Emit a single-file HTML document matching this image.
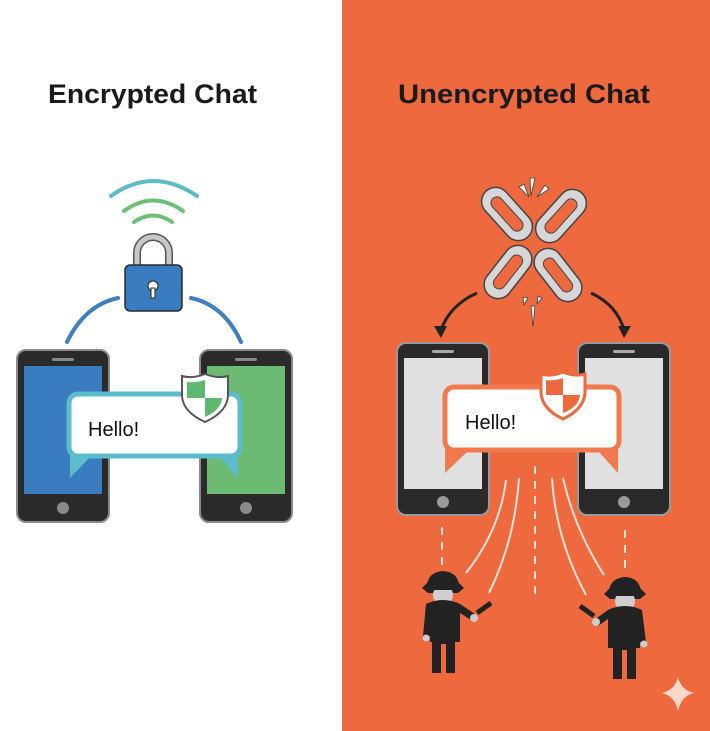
<!DOCTYPE html>
<html><head><meta charset="utf-8"><style>
html,body{margin:0;padding:0;background:#fff}
svg{display:block}
text{font-family:"Liberation Sans",sans-serif}
</style></head><body>
<svg width="710" height="731" viewBox="0 0 710 731" xmlns="http://www.w3.org/2000/svg">
<rect x="0" y="0" width="342" height="731" fill="#ffffff"/>
<rect x="342" y="0" width="368" height="731" fill="#ee6a3e"/>
<text x="48" y="103" font-size="27" font-weight="bold" fill="#1a1a1a" textLength="209" lengthAdjust="spacingAndGlyphs">Encrypted Chat</text>
<text x="398" y="103" font-size="27" font-weight="bold" fill="#1a1a1a" textLength="252" lengthAdjust="spacingAndGlyphs">Unencrypted Chat</text>

<!-- LEFT -->
<g fill="none" stroke-linecap="round" stroke-width="4">
<path d="M111,196 Q153,166 197,196" stroke="#5bbcc8"/>
<path d="M124,211 Q153,190 183,211" stroke="#6cbf74"/>
<path d="M134,222 Q153,209 172,222" stroke="#6cbf74"/>
<path d="M67,342 Q85,305 118,298" stroke="#3d7fbf"/>
<path d="M191,298 Q224,305 241,342" stroke="#3d7fbf"/>
</g>
<path d="M137,267 V253 a16,16 0 0 1 32,0 V267" fill="none" stroke="#555" stroke-width="8"/>
<path d="M137,267 V253 a16,16 0 0 1 32,0 V267" fill="none" stroke="#c8c8c8" stroke-width="5"/>
<rect x="125" y="265" width="57" height="46" rx="5" fill="#3a7cc0" stroke="#2a2a2a" stroke-width="1.5"/>
<circle cx="153" cy="286" r="5" fill="#fff" stroke="#222"/>
<rect x="151" y="288" width="4" height="10" fill="#fff" stroke="#222"/>

<g>
<rect x="17" y="350" width="92" height="172" rx="9" fill="#2a2a2a" stroke="#8a8a8a" stroke-width="2"/>
<rect x="24" y="366" width="78" height="128" fill="#3a7cc0"/>
<rect x="52" y="358" width="22" height="3" rx="1.5" fill="#888"/>
<circle cx="63" cy="508" r="6" fill="#8a8a8a"/>
<rect x="200" y="350" width="92" height="172" rx="9" fill="#2a2a2a" stroke="#8a8a8a" stroke-width="2"/>
<rect x="207" y="366" width="78" height="128" fill="#6dba72"/>
<rect x="235" y="358" width="22" height="3" rx="1.5" fill="#888"/>
<circle cx="246" cy="508" r="6" fill="#8a8a8a"/>
</g>
<path d="M70,452 L70,478 L92,455 Z" fill="#5bbccc"/>
<path d="M238,452 L238,478 L218,455 Z" fill="#5bbccc"/>
<rect x="69" y="394" width="171" height="62" rx="9" fill="#fff" stroke="#5bbccc" stroke-width="5"/>
<text x="88" y="436" font-size="20" fill="#111">Hello!</text>
<path d="M205,374 Q192,379 182,376 L182,396 Q183,412 205,422 Q227,412 228,396 L228,376 Q218,379 205,374 Z" fill="#fff" stroke="#555" stroke-width="2"/>
<path d="M205,380 L205,398 L187,398 L187,382 Q196,383 205,380 Z" fill="#5fb870"/>
<path d="M205,398 L222,398 Q221,410 205,417 Z" fill="#5fb870"/>

<!-- RIGHT chain -->
<g stroke="#444" stroke-width="1.5" fill="#d6d6d6">
<rect x="493" y="183" width="28" height="62" rx="14" transform="rotate(-42 507 214)"/>
<rect x="547" y="185" width="28" height="62" rx="14" transform="rotate(42 561 216)"/>
<rect x="494" y="242" width="28" height="60" rx="14" transform="rotate(38 508 272)"/>
<rect x="544" y="245" width="28" height="60" rx="14" transform="rotate(-38 558 275)"/>
</g>
<g fill="#ee6a3e" stroke="#444" stroke-width="1">
<rect x="501" y="193" width="12" height="42" rx="6" transform="rotate(-42 507 214)"/>
<rect x="555" y="195" width="12" height="42" rx="6" transform="rotate(42 561 216)"/>
<rect x="502" y="252" width="12" height="40" rx="6" transform="rotate(38 508 272)"/>
<rect x="552" y="255" width="12" height="40" rx="6" transform="rotate(-38 558 275)"/>
</g>
<g fill="#eee" stroke="#444" stroke-width="0.8">
<path d="M530,178 L535,178 L531,196 Z"/><path d="M519,187 L524,184 L529,197 Z"/><path d="M545,185 L549,189 L537,197 Z"/>
<path d="M531,306 L535,306 L533,327 Z"/><path d="M523,297 L528,298 L524,305 Z"/><path d="M538,296 L542,298 L537,304 Z"/>
</g>
<g fill="none" stroke="#222" stroke-width="3">
<path d="M477,293 Q450,305 441,330"/>
<path d="M591,293 Q617,305 624,330"/>
</g>
<path d="M434,326 L441,338 L447,326 Z" fill="#222"/>
<path d="M618,326 L624,338 L631,326 Z" fill="#222"/>

<g>
<rect x="397" y="343" width="92" height="172" rx="9" fill="#2a2a2a" stroke="#9a9a9a" stroke-width="2"/>
<rect x="404" y="358" width="78" height="131" fill="#e0e0e0"/>
<rect x="432" y="350" width="22" height="3" rx="1.5" fill="#aaa"/>
<circle cx="443" cy="502" r="6" fill="#9a9a9a"/>
<rect x="578" y="343" width="92" height="172" rx="9" fill="#2a2a2a" stroke="#9a9a9a" stroke-width="2"/>
<rect x="585" y="358" width="78" height="131" fill="#e0e0e0"/>
<rect x="613" y="350" width="22" height="3" rx="1.5" fill="#aaa"/>
<circle cx="624" cy="502" r="6" fill="#9a9a9a"/>
</g>
<path d="M445,448 L445,473 L468,451 Z" fill="#f07a4e"/>
<path d="M618,448 L618,473 L598,451 Z" fill="#f07a4e"/>
<rect x="445" y="387" width="174" height="63" rx="9" fill="#fff" stroke="#f07a4e" stroke-width="5"/>
<text x="465" y="429" font-size="20" fill="#111">Hello!</text>
<path d="M563,372 Q551,377 541,374 L541,393 Q542,409 563,419 Q584,409 585,393 L585,374 Q575,377 563,372 Z" fill="#fff" stroke="#ee6a3e" stroke-width="3"/>
<path d="M563,378 L563,395 L546,395 L546,380 Q555,381 563,378 Z" fill="#ee6a3e"/>
<path d="M563,395 L580,395 Q579,407 563,413 Z" fill="#ee6a3e"/>

<g fill="none" stroke="#fbe3d8" stroke-width="2">
<path d="M535,466 V600" stroke-dasharray="8,7"/>
<path d="M442,527 V567" stroke-dasharray="8,7"/>
<path d="M625,530 V570" stroke-dasharray="8,7"/>
<path d="M506,480 Q500,530 466,573"/>
<path d="M519,478 Q515,540 489,593"/>
<path d="M552,478 Q556,540 586,595"/>
<path d="M563,478 Q575,530 604,575"/>
</g>

<!-- thieves -->
<g>
<path d="M427,586 Q428,572 443,571 Q458,572 459,586 Z" fill="#222"/>
<path d="M428,582 L458,582 L464,588 L458,593 L428,593 L422,588 Z" fill="#222"/>
<circle cx="443" cy="595" r="10" fill="#cfcfcf"/>
<rect x="433" y="584" width="20" height="6" rx="2" fill="#222"/>
<path d="M426,604 Q443,596 460,604 L475,614 L471,620 L460,613 L460,642 L455,642 L455,673 L446,673 L446,644 L441,644 L441,673 L432,673 L432,642 L430,642 L430,636 L423,636 Z" fill="#222"/>
<circle cx="426" cy="638" r="3.5" fill="#ccc"/>
<circle cx="474" cy="618" r="4" fill="#ccc"/>
<path d="M477,613 L491,603" stroke="#222" stroke-width="5"/>
</g>
<g>
<path d="M609,592 Q610,578 625,577 Q640,578 641,592 Z" fill="#222"/>
<path d="M610,588 L640,588 L646,594 L640,599 L610,599 L604,594 Z" fill="#222"/>
<circle cx="625" cy="601" r="10" fill="#cfcfcf"/>
<rect x="615" y="590" width="20" height="6" rx="2" fill="#222"/>
<path d="M642,610 Q625,602 608,610 L594,620 L598,626 L608,619 L608,648 L613,648 L613,679 L622,679 L622,650 L627,650 L627,679 L636,679 L636,648 L640,648 L640,642 L646,642 Z" fill="#222"/>
<circle cx="644" cy="644" r="3.5" fill="#ccc"/>
<circle cx="596" cy="622" r="4" fill="#ccc"/>
<path d="M594,616 L580,606" stroke="#222" stroke-width="5"/>
</g>
<path d="M678,677 Q681,690 694,693 Q681,696 678,711 Q675,696 662,693 Q675,690 678,677 Z" fill="#f8d8c8"/>
</svg>
</body></html>
